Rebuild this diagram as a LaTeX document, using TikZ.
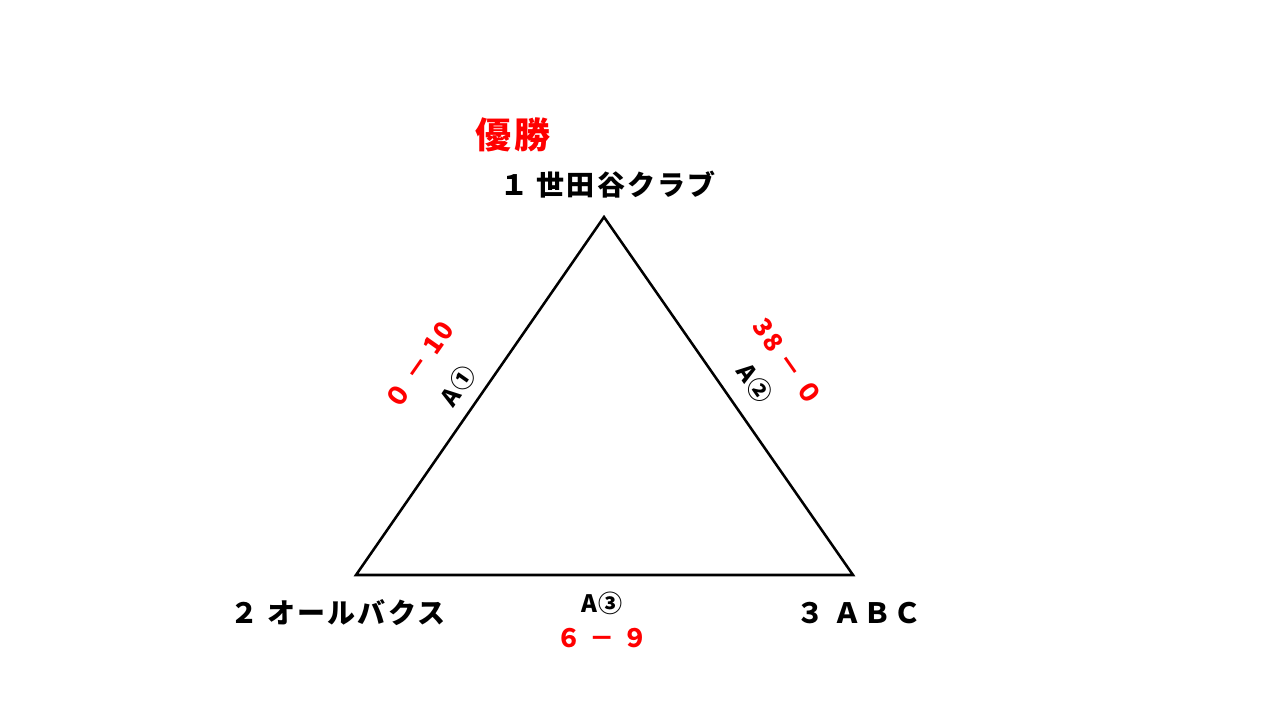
\documentclass[tikz,border=0pt]{standalone}
\usepackage{fontspec}
\newfontfamily\jpfont[LetterSpace=8]{Noto Sans CJK JP}

\begin{document}
\begin{tikzpicture}[x=0.75pt,y=-0.75pt,
    team/.style={font=\jpfont\bfseries\fontsize{21}{24}\selectfont},
    game/.style={inner sep=0pt,font=\jpfont\bfseries\fontsize{18}{21}\selectfont},
    score/.style={inner sep=0pt,font=\jpfont\bfseries\fontsize{19}{22}\selectfont,color=red}]
    \useasboundingbox[fill=white] (0,0) rectangle (1280,720);
    % vertices
    \coordinate (top) at (604,217);
    \coordinate (left) at (356,575);
    \coordinate (right) at (853,575);
    \draw[line width=1.9pt,line join=miter] (top) -- (left) -- (right) -- cycle;
    % teams
    \node[team,color=red,font=\jpfont\bfseries\fontsize{27}{30}\selectfont] (win) at (513,135) {優勝};
    \node[team] (t1) at (608,185) {１ 世田谷クラブ};
    \node[team] (t2) at (338,613) {２ オールバクス};
    \node[team] (t3) at (859,613) {３ ＡＢＣ};
    % games
    \node[game,rotate=55] (g1) at (458,386) {A①};
    \node[score,rotate=55] (s1) at (419,365) {０ － 10};
    \node[game,rotate=-55] (g2) at (755,383) {A②};
    \node[score,rotate=-55] (s2) at (788,362) {38 － ０};
    \node[game] (g3) at (602,603) {A③};
    \node[score] (s3) at (602,638) {６ － ９};
\end{tikzpicture}
\end{document}
